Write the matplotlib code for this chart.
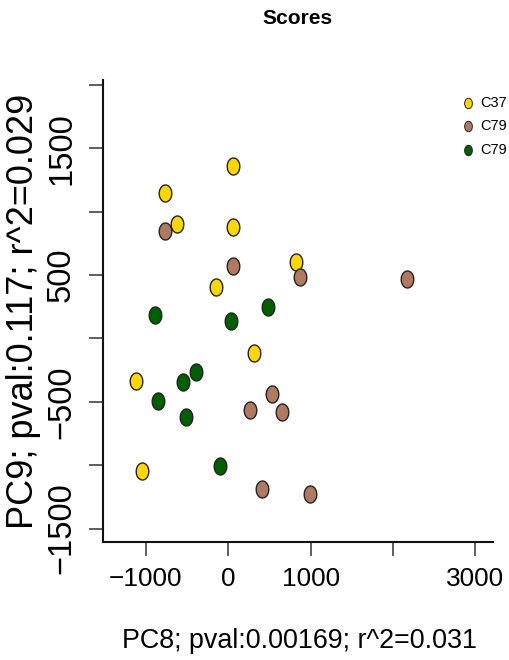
import numpy as np
import matplotlib
matplotlib.use("Agg")
import matplotlib.pyplot as plt
from matplotlib import font_manager
from matplotlib.path import Path
from matplotlib.lines import Line2D

# ---- data ----
groups = ["C37", "C79", "C79"]
colors = ["#FFD700", "#B07A62", "#006000"]

c37_x = [53, -764, -627, 53, 829, -154, 315, -1124, -1043]
c37_y = [1360, 1144, 902, 878, 605, 402, -116, -339, -1047]

c79a_x = [-768, 53, 877, 2167, 534, 259, 647, 408, 999]
c79a_y = [850, 573, 487, 468, -437, -565, -579, -1191, -1226]

c79b_x = [-894, 32, 481, -392, -546, -849, -514, -101]
c79b_y = [184, 134, 245, -266, -347, -497, -623, -1005]

xticks = [-1000, 0, 1000, 2000, 3000]
xticklabels = ["\u22121000", "0", "1000", "", "3000"]
yticks = [-1500, -1000, -500, 0, 500, 1000, 1500, 2000]
yticklabels = ["\u22121500", "", "\u2212500", "", "500", "", "1500", ""]

title = "Scores"
xlabel = "PC8; pval:0.00169; r^2=0.031"
ylabel = "PC9; pval:0.117; r^2=0.029"

# ---- fonts ----
names = {f.name for f in font_manager.fontManager.ttflist}
narrow = "Liberation Sans Narrow" if "Liberation Sans Narrow" in names else None
regular = "Liberation Sans"
hfont = narrow if narrow else regular
hscale = 1.0 if narrow else 0.84

# ellipse marker (squished horizontally)
t = np.linspace(0, 2 * np.pi, 60)
ell = Path(np.column_stack([0.74 * np.cos(t), np.sin(t)]), closed=True)

W, H = 509, 660
fig = plt.figure(figsize=(W / 100, H / 100), dpi=100)
ax = fig.add_axes([102.7 / W, 1 - 541.7 / H, (493 - 102.7) / W, (541.7 - 80) / H])

series = [(c37_x, c37_y), (c79a_x, c79a_y), (c79b_x, c79b_y)]
for (xs, ys), col in zip(series, colors):
    ax.scatter(xs, ys, s=150, marker=ell, facecolor=col, edgecolor="#222222",
               linewidths=1.0, zorder=3)

ax.set_xlim(-1524, 3215)
ax.set_ylim(-1604, 2039)
for s in ["top", "right"]:
    ax.spines[s].set_visible(False)
for s in ["left", "bottom"]:
    ax.spines[s].set_linewidth(1.5)
    ax.spines[s].set_color("#111111")

ax.set_xticks(xticks)
ax.set_xticklabels(xticklabels, fontfamily=hfont, fontsize=22.5 * hscale)
ax.set_yticks(yticks)
ax.set_yticklabels(yticklabels, fontfamily=regular, fontsize=23.5,
                   rotation=90, va="center")
ax.tick_params(axis="both", length=10, width=1.1, color="#333333", pad=8.5)

fig.text(297 / W, 1 - 19 / H, title, ha="center", va="center",
         fontfamily=hfont, fontweight="bold", fontsize=18 * hscale)
fig.text(299 / W, 1 - 641 / H, xlabel, ha="center", va="center",
         fontfamily=hfont, fontsize=23 * hscale)
fig.text(24 / W, 1 - 311 / H, ylabel, ha="center", va="center", rotation=90,
         fontfamily=regular, fontsize=26)

# legend (top-right)
ly = [102.7, 126, 150]
for lab, col, yy in zip(groups, colors, ly):
    fig.add_artist(Line2D([467.7 / W], [1 - yy / H], marker=ell, markersize=7.5,
                          markerfacecolor=col, markeredgecolor="#222222",
                          markeredgewidth=0.7, linestyle="none",
                          transform=fig.transFigure))
    fig.text(480 / W, 1 - yy / H, lab, ha="left", va="center",
             fontfamily=hfont, fontsize=12.5 * hscale)

fig.savefig("out.png", dpi=100)
